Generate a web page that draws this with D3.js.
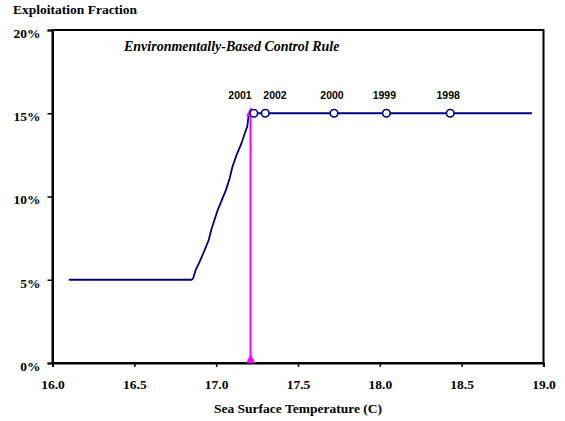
<!DOCTYPE html>
<html><head><meta charset="utf-8">
<script src="https://cdn.jsdelivr.net/npm/d3@7"></script>
<style>body{margin:0;background:#fff}svg{display:block}</style>
</head><body>
<svg id="c" width="565" height="421"></svg>
<script>
// ---- data ----
const ruleSST  = [16.10, 16.85, 16.86, 16.875, 16.90, 16.93, 16.955, 16.97, 16.99, 17.01, 17.035, 17.06, 17.08, 17.10, 17.125, 17.155, 17.175, 17.19, 17.20, 18.93];
const ruleRate = [5.0,   5.0,   5.1,   5.6,    6.1,   6.8,   7.4,    8.0,   8.6,   9.2,   9.8,    10.4,  11.0,  11.8,  12.5,   13.2,   13.8,   14.2,  15.0,  15.0];
const years    = ["2001", "2002", "2000", "1999", "1998"];
const yearSST  = [17.23, 17.30, 17.72, 18.04, 18.43];
const yearRate = [15, 15, 15, 15, 15];
const currentSST = 17.21;
const currentRate = 15;
const xTicks = [16.0, 16.5, 17.0, 17.5, 18.0, 18.5, 19.0];
const yTicks = [0, 5, 10, 15, 20];
const yTitle = "Exploitation Fraction";
const xTitle = "Sea Surface Temperature (C)";
const ruleTitle = "Environmentally-Based Control Rule";

// ---- drawing ----
const svg = d3.select("#c");
const L = 52.5, R = 543.5, T = 30, B = 363;
const x = d3.scaleLinear().domain([16, 19]).range([L, R]);
const y = d3.scaleLinear().domain([0, 20]).range([B, T]);
const serif = "'Times New Roman','Liberation Serif',serif";
const sans = "Arial,'Liberation Sans',sans-serif";

// frame
svg.append("rect").attr("x", L).attr("y", T).attr("width", R - L).attr("height", B - T)
  .attr("fill", "none").attr("stroke", "#000").attr("stroke-width", 2);

// axes
const xAxis = d3.axisBottom(x).tickValues(xTicks).tickFormat(d3.format(".1f")).tickSize(4).tickPadding(12);
const gx = svg.append("g").attr("transform", `translate(0,${B})`).call(xAxis);
const yAxis = d3.axisLeft(y).tickValues(yTicks).tickFormat(d => d + "%").tickSize(5).tickPadding(7);
const gy = svg.append("g").attr("transform", `translate(${L},0)`).call(yAxis);
[gx, gy].forEach(g => {
  g.attr("font-family", null).attr("font-size", null);
  g.select(".domain").attr("stroke", "#000").attr("stroke-width", 2);
  g.selectAll(".tick line").attr("stroke", "#000").attr("stroke-width", 1.5);
  g.selectAll(".tick text").attr("fill", "#000").style("font-family", serif)
    .style("font-weight", "bold").style("font-size", "13.5px");
});
gx.selectAll(".tick text").attr("dy", "0.71em");
gy.selectAll(".tick text").attr("dy", "0.55em");

// titles
svg.append("text").attr("x", 13).attr("y", 14).text(yTitle)
  .style("font-family", serif).style("font-weight", "bold").style("font-size", "13.5px");
svg.append("text").attr("x", (L + R) / 2).attr("y", 413).attr("text-anchor", "middle").text(xTitle)
  .style("font-family", serif).style("font-weight", "bold").style("font-size", "13.5px");
svg.append("text").attr("x", 124).attr("y", 51).text(ruleTitle)
  .style("font-family", serif).style("font-weight", "bold").style("font-style", "italic").style("font-size", "14px");

// control rule line
const pts = ruleSST.map((s, i) => [s, ruleRate[i]]);
svg.append("path").datum(pts)
  .attr("d", d3.line().x(d => x(d[0])).y(d => y(d[1])))
  .attr("fill", "none").attr("stroke", "#000080").attr("stroke-width", 1.8);

// current-year arrow (magenta)
const ax = x(currentSST);
svg.append("line").attr("x1", ax).attr("x2", ax).attr("y1", y(0)).attr("y2", y(currentRate))
  .attr("stroke", "#ff00ff").attr("stroke-width", 2);
svg.append("path").attr("d", `M${ax - 4.5},${y(0)}L${ax + 4.5},${y(0)}L${ax},${y(0) - 9}Z`).attr("fill", "#ff00ff");
svg.append("path").attr("d", `M${ax - 4.5},${y(currentRate) + 3}L${ax + 4.5},${y(currentRate) + 3}L${ax},${y(currentRate) - 6}Z`).attr("fill", "#ff00ff");

// year markers
svg.selectAll("circle.yr").data(years).enter().append("circle").attr("class", "yr")
  .attr("cx", (d, i) => x(yearSST[i])).attr("cy", (d, i) => y(yearRate[i])).attr("r", 3.8)
  .attr("fill", "#fff").attr("stroke", "#000080").attr("stroke-width", 1.6);

// labels with simple de-overlap
const minGap = 35;
let lx = yearSST.map(s => x(s));
const order = d3.range(years.length).sort((a, b) => lx[a] - lx[b]);
for (let k = 1; k < order.length; k++) {
  const a = order[k - 1], b = order[k];
  if (lx[b] - lx[a] < minGap) {
    const mid = (lx[a] + lx[b]) / 2;
    lx[a] = mid - minGap / 2; lx[b] = mid + minGap / 2;
  }
}
svg.selectAll("text.yr").data(years).enter().append("text").attr("class", "yr")
  .attr("x", (d, i) => lx[i] - 2).attr("y", (d, i) => y(yearRate[i]) - 14)
  .attr("text-anchor", "middle").text(d => d)
  .style("font-family", sans).style("font-weight", "bold").style("font-size", "10.5px");
</script>
</body></html>
